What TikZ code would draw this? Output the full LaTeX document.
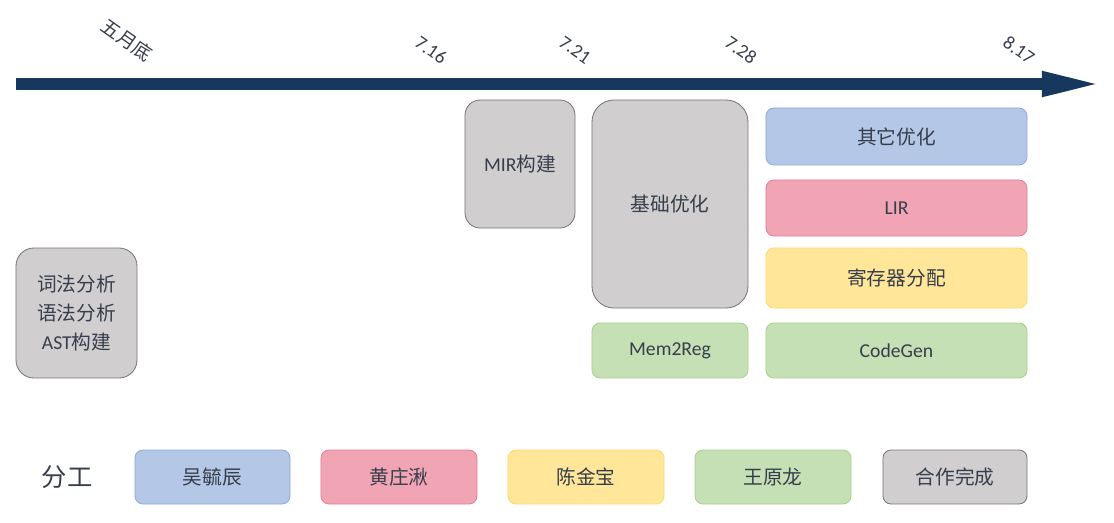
\documentclass[tikz,border=0pt]{standalone}
\usepackage{fontspec}
\setmainfont{Carlito}
\newfontfamily\cjk{Noto Sans CJK SC}
\usepackage{xcolor}
\usepackage{tikz}
\usetikzlibrary{arrows.meta,positioning}
\definecolor{axisblue}{RGB}{22,56,94}
\definecolor{txtc}{RGB}{55,62,75}
\definecolor{grayfill}{RGB}{208,206,206}
\definecolor{grayline}{RGB}{120,120,120}
\definecolor{bluefill}{RGB}{180,199,231}
\definecolor{blueline}{RGB}{143,170,220}
\definecolor{pinkfill}{RGB}{240,164,180}
\definecolor{pinkline}{RGB}{228,128,152}
\definecolor{yelfill}{RGB}{255,230,153}
\definecolor{yelline}{RGB}{255,217,102}
\definecolor{grnfill}{RGB}{197,224,180}
\definecolor{grnline}{RGB}{169,209,142}

\begin{document}
\begin{tikzpicture}[x=0.025cm,y=-0.025cm,font=\fontsize{14}{20.5}\selectfont,text=txtc,
    box/.style={draw,rounded corners=0.2cm,align=center,inner sep=0pt,line width=0.6pt},
    graybox/.style={box,fill=grayfill,draw=grayline},
    bluebox/.style={box,fill=bluefill,draw=blueline},
    pinkbox/.style={box,fill=pinkfill,draw=pinkline},
    yelbox/.style={box,fill=yelfill,draw=yelline},
    grnbox/.style={box,fill=grnfill,draw=grnline},
    date/.style={rotate=-35,inner sep=0pt,font=\fontsize{13.5}{15}\selectfont}]
    \useasboundingbox (0,0) rectangle (1114,522);
    % time axis
    \coordinate (start) at (16,84);
    \coordinate (end) at (1104,84);
    \draw[axisblue,line width=0.29cm,-{Triangle[length=1.55cm,width=0.56cm]}] (start) -- (end);
    \node[date] (may) at (127,40) {\cjk 五月底};
    \node[date] (d716) at (431,50) {7.16};
    \node[date] (d721) at (575,50) {7.21};
    \node[date] (d728) at (741,50) {7.28};
    \node[date] (d817) at (1019,50) {8.17};

    % stages
    \node[graybox,rounded corners=0.45cm,minimum width=3.025cm,minimum height=3.25cm] (front) at (76.5,313) {\cjk 词法分析\\\cjk 语法分析\\AST{\cjk 构建}};
    \node[graybox,rounded corners=0.38cm,minimum width=2.75cm,minimum height=3.2cm] (mir) at (520,164) {MIR{\cjk 构建}};
    \node[graybox,rounded corners=0.55cm,minimum width=3.9cm,minimum height=5.2cm] (base) at (670,204) {\cjk 基础优化};
    \node[grnbox,minimum width=3.9cm,minimum height=1.375cm] (memreg) at (670,350.5) {Mem2Reg};
    \node[bluebox,minimum width=6.525cm,minimum height=1.425cm] (other) at (896.5,136.5) {\cjk 其它优化};
    \node[pinkbox,minimum width=6.525cm,minimum height=1.4cm] (lir) at (896.5,208) {LIR};
    \node[yelbox,minimum width=6.525cm,minimum height=1.5cm] (regalloc) at (896.5,278) {\cjk 寄存器分配};
    \node[grnbox,minimum width=6.525cm,minimum height=1.375cm] (codegen) at (896.5,350.5) {CodeGen};

    % people
    \node[font=\fontsize{18}{20}\selectfont] (split) at (67,477) {\cjk 分工};
    \node[bluebox,minimum width=3.875cm,minimum height=1.35cm] (wu) at (212.5,477) {\cjk 吴毓辰};
    \node[pinkbox,minimum width=3.9cm,minimum height=1.35cm] (huang) at (399,477) {\cjk 黄庄湫};
    \node[yelbox,minimum width=3.9cm,minimum height=1.35cm] (chen) at (586,477) {\cjk 陈金宝};
    \node[grnbox,minimum width=3.9cm,minimum height=1.35cm] (wang) at (773,477) {\cjk 王原龙};
    \node[graybox,minimum width=3.6cm,minimum height=1.35cm] (team) at (955,477) {\cjk 合作完成};
\end{tikzpicture}
\end{document}
